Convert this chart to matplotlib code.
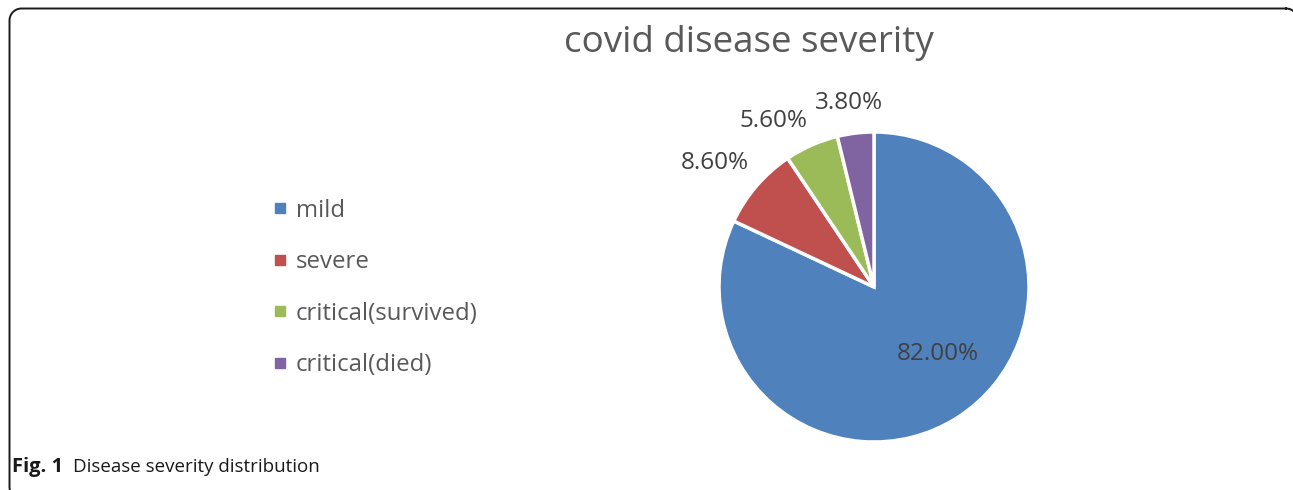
import numpy as np
import matplotlib.pyplot as plt
from matplotlib.lines import Line2D

categories = ["mild", "severe", "critical(survived)", "critical(died)"]
shares = [82.00, 8.60, 5.60, 3.80]
colors = ["#4F81BD", "#C0504D", "#9BBB59", "#8064A2"]
# where each percentage label sits, in pie radius units
label_xy = [(0.41, -0.43), (-1.03, 0.80), (-0.65, 1.07), (-0.16, 1.19)]

W, H = 1293, 490
plt.rcParams["font.family"] = ["Open Sans", "DejaVu Sans"]

fig = plt.figure(figsize=(W / 100, H / 100), dpi=100)

# full-figure overlay in pixel units for the panel frame and caption
bg = fig.add_axes([0, 0, 1, 1])
bg.set_xlim(0, W)
bg.set_ylim(H, 0)
bg.axis("off")


def rounded_frame(x0, y0, x1, y1, rad, n=20):
    """Outline of a rounded rectangle in pixel coordinates (y down)."""
    corners = [
        (x1 - rad, y0 + rad, -90, 0),
        (x1 - rad, y1 - rad, 0, 90),
        (x0 + rad, y1 - rad, 90, 180),
        (x0 + rad, y0 + rad, 180, 270),
    ]
    xs, ys = [], []
    for ccx, ccy, a0, a1 in corners:
        t = np.radians(np.linspace(a0, a1, n))
        xs.extend(ccx + rad * np.cos(t))
        ys.extend(ccy + rad * np.sin(t))
    xs.append(xs[0])
    ys.append(ys[0])
    return xs, ys


fx, fy = rounded_frame(9.5, 8.5, 1298, 499, 12)
bg.plot(fx, fy, color="#1a1a1a", lw=1.4, solid_joinstyle="round")

cx, cy, r = 874, 287, 155
ax = fig.add_axes([(cx - r) / W, (H - cy - r) / H, 2 * r / W, 2 * r / H])
ax.patch.set_visible(False)
wedges, _ = ax.pie(
    shares,
    colors=colors,
    startangle=90,
    counterclock=False,
    radius=1,
    wedgeprops={"edgecolor": "white", "linewidth": 2.5},
)
ax.set_xlim(-1, 1)
ax.set_ylim(-1, 1)
ax.set_aspect("equal")
ax.axis("off")

for value, (x, y) in zip(shares, label_xy):
    ax.text(x, y, f"{value:.2f}%", ha="center", va="center",
            fontsize=17.5, color="#404040")

fig.text(749 / W, 1 - 43 / H, "covid disease severity", ha="center",
         va="center", fontsize=26.5, color="#595959")

handles = [Line2D([], [], marker="s", ls="none", color=c, markersize=7)
           for c in colors]
fig.legend(
    handles, categories,
    loc="center left", bbox_to_anchor=(273 / W, 1 - 288 / H),
    frameon=False, fontsize=17.3, labelcolor="#595959",
    borderpad=0, borderaxespad=0,
    handlelength=0.6, handletextpad=0.36, labelspacing=1.15,
)

bg.text(12, 467, "Fig. 1", ha="left", va="center",
        fontsize=14.5, fontweight="bold", color="#1a1a1a")
bg.text(73, 467, "Disease severity distribution", ha="left",
        va="center", fontsize=13.5, color="#1a1a1a")

fig.savefig("out.png", dpi=100)
